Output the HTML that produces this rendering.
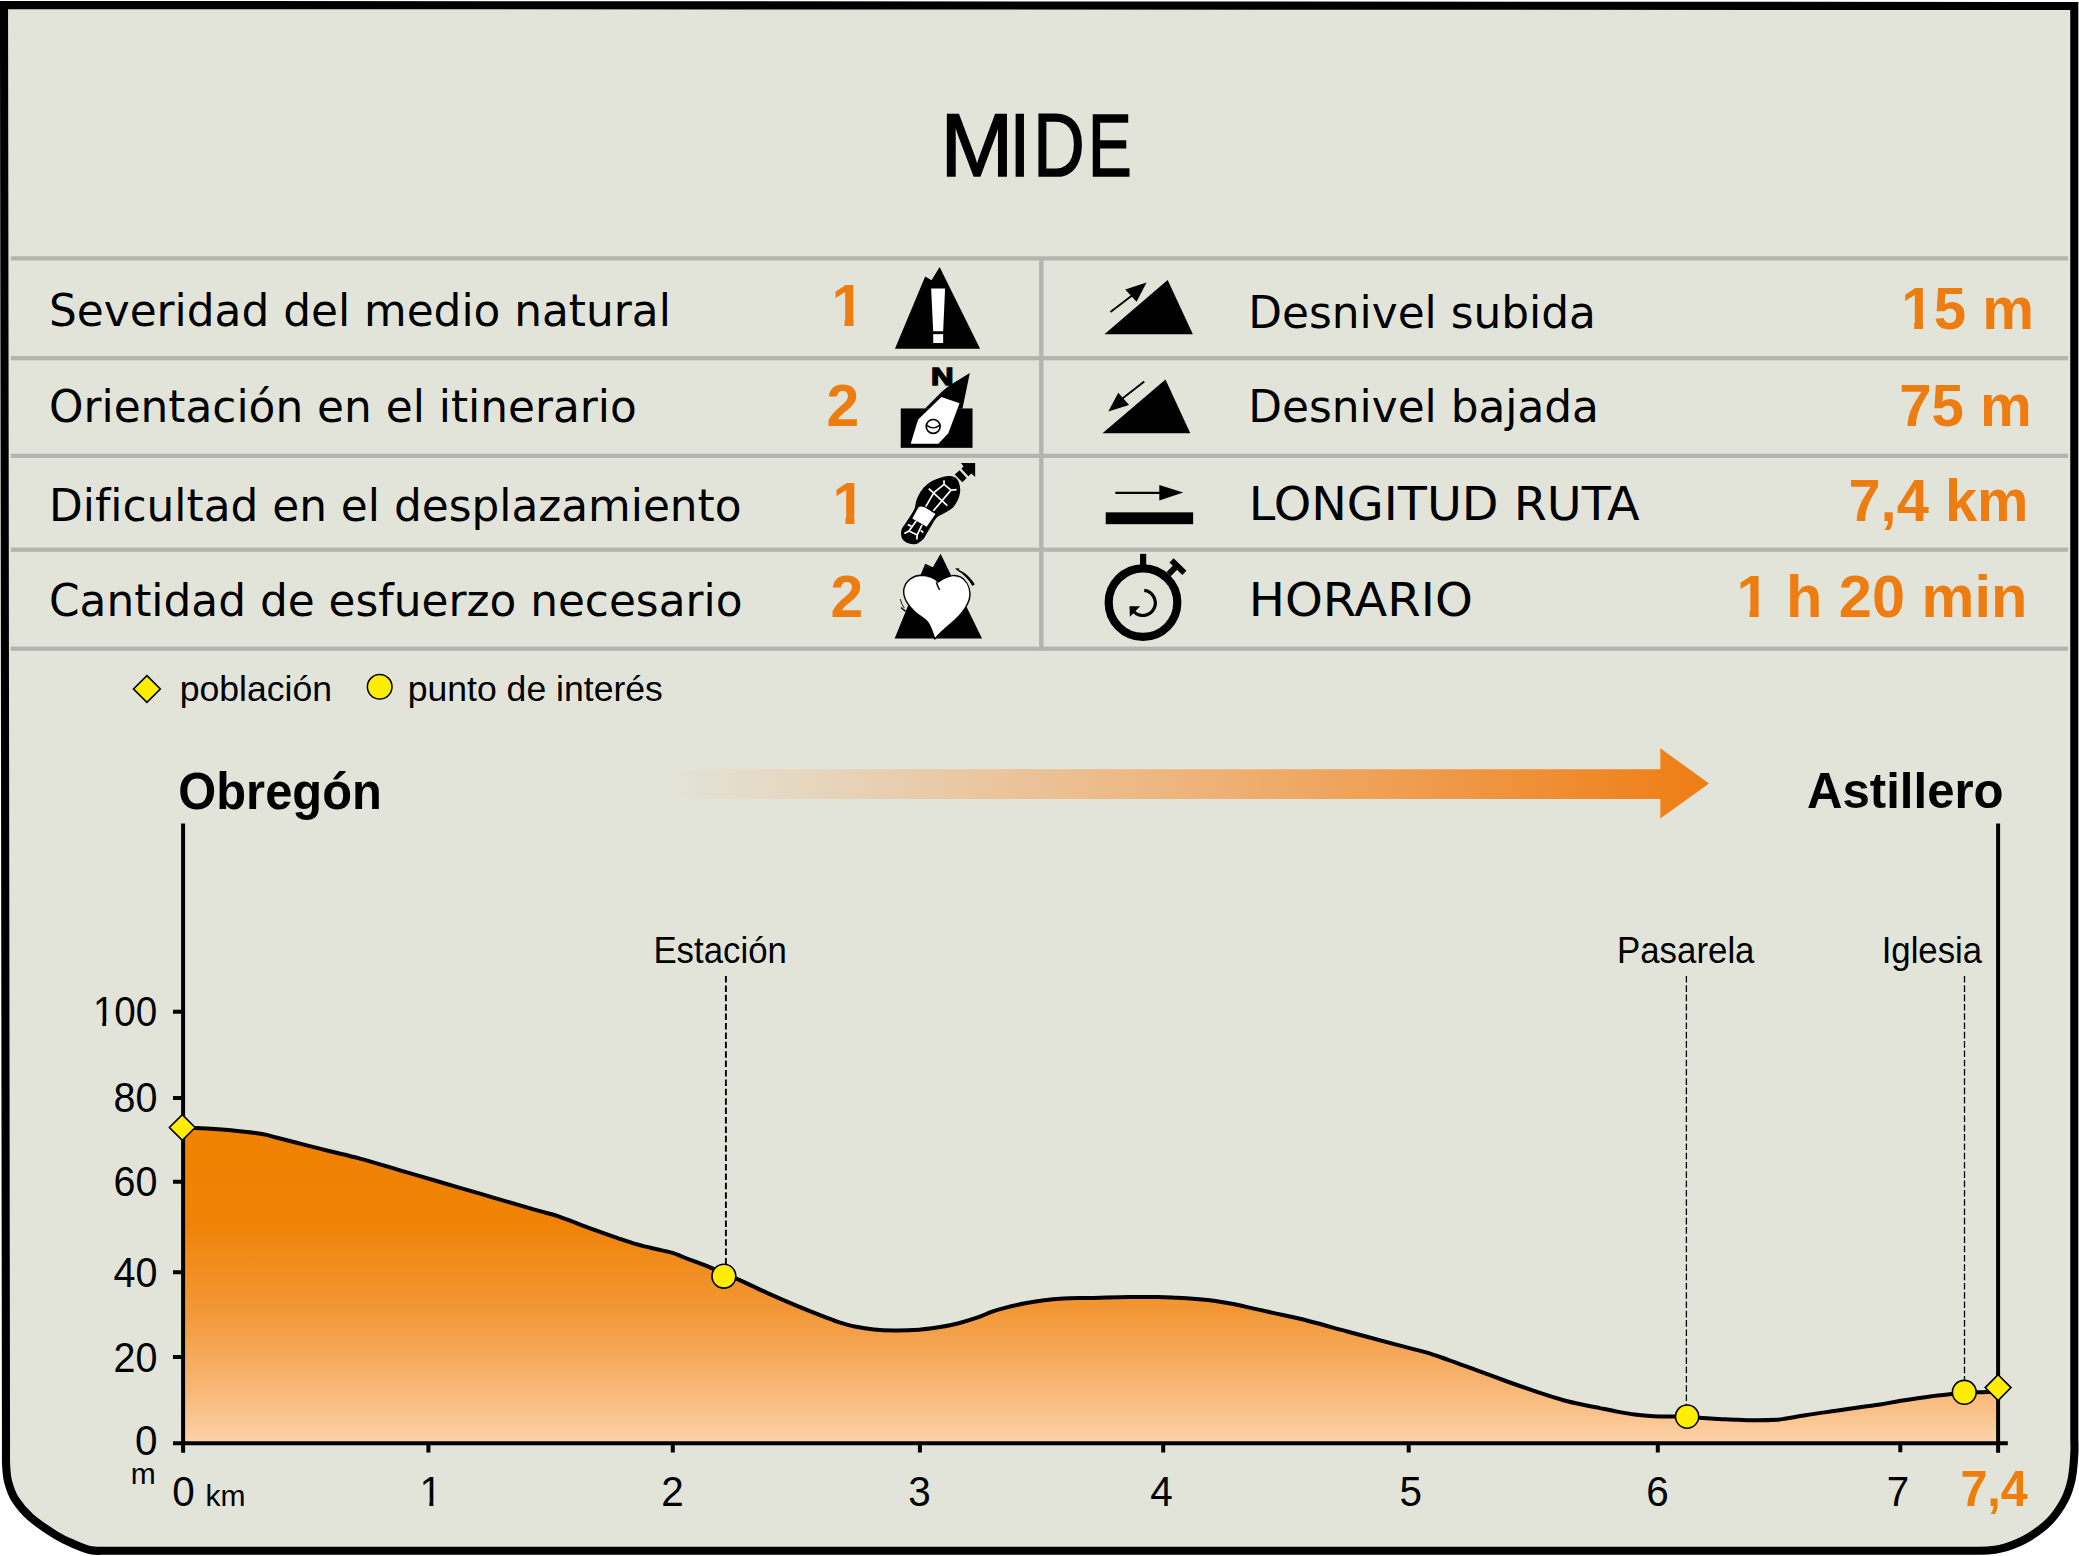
<!DOCTYPE html>
<html lang="es">
<head>
<meta charset="utf-8">
<title>MIDE</title>
<style>
html,body{margin:0;padding:0;background:#fff;}
body{width:2079px;height:1556px;overflow:hidden;}
svg{display:block;}
.lbl{font-family:"DejaVu Sans","Liberation Sans",sans-serif;font-size:43.8px;fill:#000;}
.lblc{font-family:"DejaVu Sans","Liberation Sans",sans-serif;font-size:46.2px;fill:#000;}
.val{font-family:"Liberation Sans",sans-serif;font-weight:bold;font-size:58px;fill:#ee7d11;}
.ax{font-family:"Liberation Sans",sans-serif;font-size:41px;fill:#000;}
.poi{font-family:"Liberation Sans",sans-serif;font-size:36px;fill:#000;}
.town{font-family:"Liberation Sans",sans-serif;font-weight:bold;font-size:49px;fill:#000;}
</style>
</head>
<body>
<svg width="2079" height="1556" viewBox="0 0 2079 1556">
<defs>
<linearGradient id="gfill" gradientUnits="userSpaceOnUse" x1="0" y1="1127" x2="0" y2="1443">
<stop offset="0" stop-color="#f08200"/>
<stop offset="0.30" stop-color="#f08306"/>
<stop offset="0.58" stop-color="#f29736"/>
<stop offset="0.77" stop-color="#f6af66"/>
<stop offset="0.90" stop-color="#f9c189"/>
<stop offset="1" stop-color="#fcd3aa"/>
</linearGradient>
<linearGradient id="garrow" gradientUnits="userSpaceOnUse" x1="655" y1="0" x2="1709" y2="0">
<stop offset="0.00" stop-color="#e2e4da"/>
<stop offset="0.25" stop-color="#e8ccaa"/>
<stop offset="0.50" stop-color="#eeb47c"/>
<stop offset="0.75" stop-color="#ef9948"/>
<stop offset="1.00" stop-color="#ef7d14"/>
</linearGradient>
<clipPath id="c1a"><rect x="828.6" y="266.2" width="35.4" height="53.1"/><rect x="844.6" y="266.2" width="8.9" height="62.0"/></clipPath>
<clipPath id="c1b"><rect x="829.5" y="464.0" width="35.4" height="53.1"/><rect x="845.5" y="464.0" width="8.9" height="62.0"/></clipPath>
<clipPath id="c15"><rect x="1898.3" y="269.1" width="35.1" height="53.1"/><rect x="1914.2" y="269.1" width="8.8" height="62.0"/><rect x="1933.0" y="269.1" width="107.5" height="84.0"/></clipPath>
<clipPath id="c1h"><rect x="1733.4" y="557.1" width="35.8" height="53.1"/><rect x="1749.6" y="557.1" width="9.0" height="62.0"/><rect x="1768.8" y="557.1" width="265.1" height="84.0"/></clipPath>
<clipPath id="c100"><rect x="89.9" y="983.1" width="23.8" height="38.9"/><rect x="102.3" y="983.1" width="3.8" height="45.0"/><rect x="113.3" y="983.1" width="50.6" height="60.2"/></clipPath>
<clipPath id="cx1"><rect x="416.6" y="1462.8" width="24.7" height="38.9"/><rect x="429.4" y="1462.8" width="4.0" height="45.0"/></clipPath>
</defs>

<!-- panel frame -->
<path id="frame" d="M4,5 L2074.3,6 L2074.3,1439.5 C2074.3,1442.0 2074.8,1447.8 2074.3,1454.5 C2073.9,1461.2 2073.2,1472.0 2071.6,1479.5 C2070.0,1487.0 2068.4,1492.6 2064.8,1499.5 C2061.2,1506.4 2055.9,1514.7 2049.8,1521.0 C2043.7,1527.3 2035.4,1533.2 2028.3,1537.5 C2021.2,1541.8 2013.7,1544.7 2007.3,1546.8 C2000.9,1548.9 1995.7,1549.6 1989.8,1550.3 C1983.9,1551.0 1974.8,1550.6 1971.8,1550.7 L105.0,1550.7 C102.7,1550.6 96.2,1551.4 91.0,1550.3 C85.8,1549.2 79.4,1546.4 73.5,1543.9 C67.6,1541.4 63.0,1539.6 55.8,1535.1 C48.6,1530.6 37.1,1523.0 30.3,1517.0 C23.5,1511.0 18.7,1504.8 15.0,1499.0 C11.3,1493.2 9.7,1487.4 8.2,1482.0 C6.7,1476.6 6.6,1471.6 6.2,1466.5 C5.8,1461.4 6.0,1454.0 6.0,1451.5 Z" fill="#e2e4da" stroke="#000" stroke-width="8.1" stroke-linejoin="miter"/>

<!-- title -->
<text id="title" y="175.9" font-family="'Liberation Sans',sans-serif" font-size="89.6" stroke="#000" stroke-width="1.7"><tspan x="940.5" textLength="72.8" lengthAdjust="spacingAndGlyphs">M</tspan><tspan x="1009.5" textLength="20.6" lengthAdjust="spacingAndGlyphs">I</tspan><tspan x="1033.2" textLength="51.4" lengthAdjust="spacingAndGlyphs">D</tspan><tspan x="1087.9" textLength="43.7" lengthAdjust="spacingAndGlyphs">E</tspan></text>

<!-- table rules -->
<g id="rules" fill="#b3b4ac">
<rect x="10.8" y="256.3" width="2057.2" height="4.2"/>
<rect x="10.8" y="356.1" width="2057.2" height="4.2"/>
<rect x="10.8" y="453.7" width="2057.2" height="4.2"/>
<rect x="10.8" y="547.6" width="2057.2" height="4.2"/>
<rect x="10.8" y="646.6" width="2057.2" height="4.2"/>
<rect x="1039.1" y="258.4" width="4.4" height="392.3"/>
</g>

<!-- left column -->
<g id="leftcol">
<text class="lbl" x="49" y="326.4">Severidad del medio natural</text>
<text class="lbl" x="49" y="422.2">Orientación en el itinerario</text>
<text class="lbl" x="49" y="521.3">Dificultad en el desplazamiento</text>
<text class="lbl" x="49" y="616.1">Cantidad de esfuerzo necesario</text>
<text class="val" x="831.6" y="326.2" style="font-size:60px" textLength="32.7" lengthAdjust="spacingAndGlyphs" clip-path="url(#c1a)">1</text>
<text class="val" x="826.6" y="426" style="font-size:60px" textLength="32.7" lengthAdjust="spacingAndGlyphs">2</text>
<text class="val" x="832.5" y="524" style="font-size:60px" textLength="32.7" lengthAdjust="spacingAndGlyphs" clip-path="url(#c1b)">1</text>
<text class="val" x="830.6" y="617.1" style="font-size:60px" textLength="32.7" lengthAdjust="spacingAndGlyphs">2</text>
</g>

<!-- right column -->
<g id="rightcol">
<text class="lbl" x="1248.3" y="328.2">Desnivel subida</text>
<text class="lbl" x="1248.3" y="422">Desnivel bajada</text>
<text class="lblc" x="1248.8" y="520" textLength="390.9" lengthAdjust="spacingAndGlyphs">LONGITUD RUTA</text>
<text class="lblc" x="1248.8" y="616" textLength="224" lengthAdjust="spacingAndGlyphs">HORARIO</text>
<text class="val" x="1901.3" y="329.1" style="font-size:60px" textLength="132.6" lengthAdjust="spacingAndGlyphs" clip-path="url(#c15)">15 m</text>
<text class="val" x="1899.2" y="425.8" style="font-size:60px" textLength="132.6" lengthAdjust="spacingAndGlyphs">75 m</text>
<text class="val" x="1848.4" y="521.3" style="font-size:60px" textLength="180.1" lengthAdjust="spacingAndGlyphs">7,4 km</text>
<text class="val" x="1736.4" y="617.1" style="font-size:60px" textLength="290.9" lengthAdjust="spacingAndGlyphs" clip-path="url(#c1h)">1 h 20 min</text>
</g>

<!-- ICONS -->
<g id="icons">
<!-- severidad: mountain with exclamation -->
<g transform="translate(885 258) scale(0.064259)">
<path d="M155,1413 L1480,1413 L850,140 L725,345 L625,287 Z" fill="#000"/>
<path d="M718,475 L935,475 L905,1138 L750,1138 Z" fill="#fff"/>
<rect x="750" y="1185" width="155" height="138" fill="#fff"/>
</g>
<!-- orientacion: compass -->
<g transform="translate(885 358) scale(0.064259)">
<rect x="245" y="785" width="1117" height="613" fill="#000"/>
<path d="M1320,232 L1060,392 Q960,450 880,530 L620,790 L1205,790 Z" fill="#000"/>
<path d="M878,605 L1160,705 L985,1170 L832,1335 L400,1335 L492,1030 L520,955 Z" fill="#fff"/>
<circle cx="750" cy="1065" r="108" fill="none" stroke="#000" stroke-width="26"/>
<path d="M648,1045 Q750,1130 852,1045" fill="none" stroke="#000" stroke-width="22"/>
</g>
<text x="942.4" y="384.5" text-anchor="middle" font-family="'Liberation Sans',sans-serif" font-weight="bold" font-size="24" textLength="22.6" lengthAdjust="spacingAndGlyphs" stroke="#000" stroke-width="1.4">N</text>
<!-- desplazamiento: boot sole -->
<g transform="translate(890 455) scale(0.06105)">
<path d="M1060,365 C1110,385 1145,470 1150,560 C1155,650 1110,770 1040,850 C990,905 880,960 800,1000 C760,1020 730,1070 700,1120 L600,1290 C570,1340 560,1375 520,1400 C480,1440 440,1460 400,1460 C340,1462 290,1450 260,1430 C220,1405 192,1370 185,1330 C178,1290 180,1255 190,1220 C205,1180 235,1150 260,1110 L350,970 C380,925 400,890 410,850 C420,805 425,760 440,720 C455,680 475,640 500,600 C530,555 570,510 620,470 C670,430 740,400 800,380 C850,362 900,350 950,345 C990,342 1030,350 1060,365 Z" fill="#000"/>
<path d="M1160,130 L1395,130 L1395,360 L1330,305 L1285,350 L1170,225 L1205,185 Z" fill="#000"/>
<path d="M1140,250 L1255,375 L1185,445 L1060,320 Z" fill="#000"/>
<g fill="none" stroke="#fff" stroke-width="28" stroke-linecap="butt">
<path d="M885,415 L885,480 L720,615 L585,845"/>
<path d="M885,480 L1000,575 L1092,568"/>
<path d="M1000,575 L710,915"/>
<path d="M635,550 L940,830"/>
<path d="M430,1080 L310,1245 L235,1285"/>
<path d="M310,1245 L445,1310 L440,1385"/>
<path d="M525,1145 L445,1310"/>
<path d="M290,1140 L350,1165"/>
<path d="M505,1235 L545,1270"/>
</g>
<path d="M470,850 Q490,835 560,850 L745,965 L600,1175 L365,1040 Z" fill="#fff"/>
</g>
<!-- esfuerzo: mountain with heart -->
<g transform="translate(885 548) scale(0.064259)">
<path d="M150,1410 L1510,1410 L865,90 L745,300 L625,245 Z" fill="#000"/>
<path d="M825,530 C790,470 680,425 560,425 C440,430 330,500 295,630 C270,760 340,880 470,1000 C540,1060 600,1090 650,1140 C710,1200 740,1320 775,1415 C850,1330 930,1260 1000,1200 C1100,1115 1190,1030 1250,930 C1300,850 1330,780 1322,700 C1315,600 1260,500 1180,455 C1140,435 1090,425 1050,430 C980,440 900,480 825,530 Z" fill="#fff" stroke="#000" stroke-width="22" stroke-linejoin="round"/>
<path d="M800,535 Q815,590 850,650" fill="none" stroke="#000" stroke-width="24"/>
<path d="M1090,316 L1165,320 L1145,338 C1250,385 1330,455 1398,565 L1360,590 C1300,490 1230,410 1125,352 Z" fill="#000"/>
<path d="M238,795 Q255,880 300,935" fill="none" stroke="#000" stroke-width="14"/>
<path d="M250,925 Q285,960 322,985" fill="none" stroke="#000" stroke-width="22"/>
</g>
<!-- desnivel subida -->
<g transform="translate(1080 260) scale(0.12855)">
<path d="M190,577 L878,577 L682,155 Z" fill="#000"/>
<path d="M237,405 L420,265" stroke="#000" stroke-width="15" fill="none"/>
<path d="M518,175 L352,230 L440,325 Z" fill="#000"/>
<!-- desnivel bajada -->
<path d="M175,1348 L858,1348 L665,930 Z" fill="#000"/>
<path d="M500,945 L320,1085" stroke="#000" stroke-width="15" fill="none"/>
<path d="M220,1178 L298,1032 L382,1128 Z" fill="#000"/>
</g>
<!-- longitud + horario -->
<g transform="translate(1080 450) scale(0.12855)">
<path d="M275,333 L625,333" stroke="#000" stroke-width="17" fill="none"/>
<path d="M617,272 L803,330 L617,393 Z" fill="#000"/>
<rect x="200" y="485" width="680" height="92" fill="#000"/>
<circle cx="490" cy="1187" r="267" fill="none" stroke="#000" stroke-width="64"/>
<rect x="467" y="808" width="48" height="100" fill="#000"/>
<path d="M690,965 L757,898" stroke="#000" stroke-width="46" fill="none"/>
<path d="M712,858 L812,955" stroke="#000" stroke-width="46" fill="none"/>
<path d="M500,1092 A98,98 0 1 1 418,1258" fill="none" stroke="#000" stroke-width="25"/>
<path d="M385,1215 L468,1215 L388,1298 Z" fill="#000"/>
</g>
</g>

<!-- legend -->
<g id="legend">
<path d="M146.9,675.6 L160.3,689 L146.9,702.4 L133.5,689 Z" fill="#ffed00" stroke="#000" stroke-width="1.6"/>
<circle cx="379.7" cy="686.8" r="12.3" fill="#ffed00" stroke="#000" stroke-width="1.5"/>
<text class="poi" x="179.7" y="700.6" style="font-size:35.6px">población</text>
<text class="poi" x="407.7" y="700.6" style="font-size:35.6px">punto de interés</text>
</g>

<!-- chart -->
<g id="chart">
<!-- direction arrow -->
<path d="M655,769.2 H1660.3 V748.2 L1709,783.4 L1660.3,818.6 V799.1 H655 Z" fill="url(#garrow)"/>
<!-- profile -->
<path id="pfill" d="M183.3,1127.8 C185.3,1127.8 189.5,1127.8 195.4,1128.1 C201.3,1128.3 211.4,1128.8 218.5,1129.3 C225.6,1129.8 231.3,1130.3 237.7,1131.0 C244.1,1131.7 252.2,1132.5 257.0,1133.2 C261.8,1133.9 263.4,1134.2 266.6,1134.9 C269.8,1135.6 270.6,1136.0 276.2,1137.5 C281.8,1139.0 291.0,1141.3 300.0,1143.6 C309.0,1145.9 320.0,1148.7 330.0,1151.2 C340.0,1153.7 348.3,1155.4 360.0,1158.6 C371.7,1161.8 386.7,1166.4 400.0,1170.3 C413.3,1174.2 426.7,1178.1 440.0,1182.0 C453.3,1185.9 466.7,1189.8 480.0,1193.7 C493.3,1197.6 510.0,1202.5 520.0,1205.4 C530.0,1208.3 533.5,1209.3 540.0,1211.2 C546.5,1213.1 551.2,1213.8 559.2,1216.6 C567.2,1219.3 578.5,1224.2 588.1,1227.7 C597.7,1231.2 609.0,1235.1 617.0,1237.8 C625.0,1240.5 629.8,1242.2 636.2,1244.1 C642.6,1245.9 649.5,1247.5 655.4,1248.9 C661.3,1250.3 667.0,1251.3 671.8,1252.7 C676.6,1254.1 679.0,1255.5 684.3,1257.5 C689.6,1259.5 696.9,1262.1 703.5,1264.7 C710.1,1267.3 717.9,1270.8 723.9,1273.3 C729.9,1275.8 731.8,1276.5 739.2,1279.8 C746.6,1283.1 758.5,1289.0 768.1,1293.3 C777.7,1297.6 787.4,1301.8 797.0,1305.8 C806.6,1309.8 818.6,1314.5 825.8,1317.3 C833.0,1320.1 835.5,1321.1 840.3,1322.6 C845.1,1324.1 849.1,1325.4 854.7,1326.5 C860.3,1327.6 867.5,1328.8 873.9,1329.4 C880.3,1330.1 885.7,1330.4 893.2,1330.4 C900.8,1330.5 911.7,1330.2 919.2,1329.7 C926.8,1329.2 932.1,1328.3 938.5,1327.3 C944.9,1326.3 951.3,1325.1 957.7,1323.5 C964.1,1321.9 971.4,1319.6 977.0,1317.7 C982.6,1315.8 986.6,1313.6 991.4,1311.9 C996.2,1310.2 1000.2,1309.0 1005.8,1307.6 C1011.4,1306.2 1018.7,1304.5 1025.1,1303.3 C1031.5,1302.1 1037.9,1301.0 1044.3,1300.2 C1050.7,1299.4 1057.1,1298.9 1063.5,1298.5 C1069.9,1298.1 1076.7,1298.1 1082.8,1298.0 C1088.9,1297.9 1092.3,1297.9 1100.0,1297.7 C1107.7,1297.5 1119.3,1297.1 1128.9,1297.0 C1138.5,1296.9 1149.7,1296.9 1157.7,1297.0 C1165.7,1297.1 1170.6,1297.5 1177.0,1297.8 C1183.4,1298.1 1189.8,1298.5 1196.2,1299.0 C1202.6,1299.5 1209.0,1300.0 1215.4,1300.9 C1221.8,1301.8 1228.3,1303.0 1234.7,1304.3 C1241.1,1305.6 1247.5,1307.2 1253.9,1308.6 C1260.3,1310.0 1265.5,1311.2 1273.2,1312.9 C1280.9,1314.6 1287.5,1315.7 1300.0,1318.8 C1312.5,1321.9 1332.1,1327.4 1348.1,1331.7 C1364.1,1336.0 1383.4,1341.2 1396.2,1344.6 C1409.0,1348.0 1416.4,1349.7 1425.1,1352.2 C1433.8,1354.7 1439.4,1356.8 1448.1,1359.8 C1456.8,1362.8 1467.4,1366.9 1477.0,1370.4 C1486.6,1373.9 1496.2,1377.5 1505.8,1381.0 C1515.4,1384.5 1525.1,1387.9 1534.7,1391.1 C1544.3,1394.3 1554.8,1397.8 1563.5,1400.2 C1572.2,1402.6 1580.5,1404.2 1586.6,1405.5 C1592.7,1406.8 1595.2,1407.1 1600.0,1408.1 C1604.8,1409.1 1609.6,1410.2 1615.4,1411.3 C1621.2,1412.4 1628.3,1413.8 1634.7,1414.6 C1641.1,1415.4 1647.5,1415.9 1653.9,1416.2 C1660.3,1416.5 1667.7,1416.5 1673.2,1416.6 C1678.7,1416.7 1682.7,1416.7 1687.1,1416.9 C1691.5,1417.1 1694.3,1417.4 1699.6,1417.7 C1704.9,1418.0 1712.5,1418.6 1718.9,1418.9 C1725.3,1419.2 1731.7,1419.6 1738.1,1419.8 C1744.5,1420.0 1750.9,1420.3 1757.3,1420.3 C1763.7,1420.3 1771.8,1420.1 1776.6,1419.8 C1781.4,1419.5 1781.4,1419.2 1786.2,1418.5 C1791.0,1417.8 1797.4,1416.5 1805.4,1415.3 C1813.4,1414.0 1824.7,1412.4 1834.3,1411.0 C1843.9,1409.6 1855.6,1407.9 1863.2,1406.8 C1870.8,1405.7 1873.7,1405.5 1880.0,1404.5 C1886.3,1403.5 1892.2,1402.2 1900.8,1400.8 C1909.4,1399.4 1923.1,1397.3 1931.6,1396.2 C1940.1,1395.1 1943.9,1394.6 1951.6,1393.9 C1959.3,1393.2 1971.7,1392.6 1977.7,1392.3 C1983.7,1392.0 1984.3,1392.0 1987.7,1391.9 C1991.1,1391.8 1996.3,1391.6 1998.0,1391.6 L1998,1443 L183.3,1443 Z" fill="url(#gfill)"/>
<path id="pline" d="M183.3,1127.8 C185.3,1127.8 189.5,1127.8 195.4,1128.1 C201.3,1128.3 211.4,1128.8 218.5,1129.3 C225.6,1129.8 231.3,1130.3 237.7,1131.0 C244.1,1131.7 252.2,1132.5 257.0,1133.2 C261.8,1133.9 263.4,1134.2 266.6,1134.9 C269.8,1135.6 270.6,1136.0 276.2,1137.5 C281.8,1139.0 291.0,1141.3 300.0,1143.6 C309.0,1145.9 320.0,1148.7 330.0,1151.2 C340.0,1153.7 348.3,1155.4 360.0,1158.6 C371.7,1161.8 386.7,1166.4 400.0,1170.3 C413.3,1174.2 426.7,1178.1 440.0,1182.0 C453.3,1185.9 466.7,1189.8 480.0,1193.7 C493.3,1197.6 510.0,1202.5 520.0,1205.4 C530.0,1208.3 533.5,1209.3 540.0,1211.2 C546.5,1213.1 551.2,1213.8 559.2,1216.6 C567.2,1219.3 578.5,1224.2 588.1,1227.7 C597.7,1231.2 609.0,1235.1 617.0,1237.8 C625.0,1240.5 629.8,1242.2 636.2,1244.1 C642.6,1245.9 649.5,1247.5 655.4,1248.9 C661.3,1250.3 667.0,1251.3 671.8,1252.7 C676.6,1254.1 679.0,1255.5 684.3,1257.5 C689.6,1259.5 696.9,1262.1 703.5,1264.7 C710.1,1267.3 717.9,1270.8 723.9,1273.3 C729.9,1275.8 731.8,1276.5 739.2,1279.8 C746.6,1283.1 758.5,1289.0 768.1,1293.3 C777.7,1297.6 787.4,1301.8 797.0,1305.8 C806.6,1309.8 818.6,1314.5 825.8,1317.3 C833.0,1320.1 835.5,1321.1 840.3,1322.6 C845.1,1324.1 849.1,1325.4 854.7,1326.5 C860.3,1327.6 867.5,1328.8 873.9,1329.4 C880.3,1330.1 885.7,1330.4 893.2,1330.4 C900.8,1330.5 911.7,1330.2 919.2,1329.7 C926.8,1329.2 932.1,1328.3 938.5,1327.3 C944.9,1326.3 951.3,1325.1 957.7,1323.5 C964.1,1321.9 971.4,1319.6 977.0,1317.7 C982.6,1315.8 986.6,1313.6 991.4,1311.9 C996.2,1310.2 1000.2,1309.0 1005.8,1307.6 C1011.4,1306.2 1018.7,1304.5 1025.1,1303.3 C1031.5,1302.1 1037.9,1301.0 1044.3,1300.2 C1050.7,1299.4 1057.1,1298.9 1063.5,1298.5 C1069.9,1298.1 1076.7,1298.1 1082.8,1298.0 C1088.9,1297.9 1092.3,1297.9 1100.0,1297.7 C1107.7,1297.5 1119.3,1297.1 1128.9,1297.0 C1138.5,1296.9 1149.7,1296.9 1157.7,1297.0 C1165.7,1297.1 1170.6,1297.5 1177.0,1297.8 C1183.4,1298.1 1189.8,1298.5 1196.2,1299.0 C1202.6,1299.5 1209.0,1300.0 1215.4,1300.9 C1221.8,1301.8 1228.3,1303.0 1234.7,1304.3 C1241.1,1305.6 1247.5,1307.2 1253.9,1308.6 C1260.3,1310.0 1265.5,1311.2 1273.2,1312.9 C1280.9,1314.6 1287.5,1315.7 1300.0,1318.8 C1312.5,1321.9 1332.1,1327.4 1348.1,1331.7 C1364.1,1336.0 1383.4,1341.2 1396.2,1344.6 C1409.0,1348.0 1416.4,1349.7 1425.1,1352.2 C1433.8,1354.7 1439.4,1356.8 1448.1,1359.8 C1456.8,1362.8 1467.4,1366.9 1477.0,1370.4 C1486.6,1373.9 1496.2,1377.5 1505.8,1381.0 C1515.4,1384.5 1525.1,1387.9 1534.7,1391.1 C1544.3,1394.3 1554.8,1397.8 1563.5,1400.2 C1572.2,1402.6 1580.5,1404.2 1586.6,1405.5 C1592.7,1406.8 1595.2,1407.1 1600.0,1408.1 C1604.8,1409.1 1609.6,1410.2 1615.4,1411.3 C1621.2,1412.4 1628.3,1413.8 1634.7,1414.6 C1641.1,1415.4 1647.5,1415.9 1653.9,1416.2 C1660.3,1416.5 1667.7,1416.5 1673.2,1416.6 C1678.7,1416.7 1682.7,1416.7 1687.1,1416.9 C1691.5,1417.1 1694.3,1417.4 1699.6,1417.7 C1704.9,1418.0 1712.5,1418.6 1718.9,1418.9 C1725.3,1419.2 1731.7,1419.6 1738.1,1419.8 C1744.5,1420.0 1750.9,1420.3 1757.3,1420.3 C1763.7,1420.3 1771.8,1420.1 1776.6,1419.8 C1781.4,1419.5 1781.4,1419.2 1786.2,1418.5 C1791.0,1417.8 1797.4,1416.5 1805.4,1415.3 C1813.4,1414.0 1824.7,1412.4 1834.3,1411.0 C1843.9,1409.6 1855.6,1407.9 1863.2,1406.8 C1870.8,1405.7 1873.7,1405.5 1880.0,1404.5 C1886.3,1403.5 1892.2,1402.2 1900.8,1400.8 C1909.4,1399.4 1923.1,1397.3 1931.6,1396.2 C1940.1,1395.1 1943.9,1394.6 1951.6,1393.9 C1959.3,1393.2 1971.7,1392.6 1977.7,1392.3 C1983.7,1392.0 1984.3,1392.0 1987.7,1391.9 C1991.1,1391.8 1996.3,1391.6 1998.0,1391.6" fill="none" stroke="#000" stroke-width="4" stroke-linejoin="round"/>
<!-- axes -->
<g stroke="#000" stroke-width="4" fill="none">
<path d="M183.1,823.5 V1452.7"/>
<path d="M1998.1,823.5 V1452.7"/>
<path d="M173,1443.25 H2007.8"/>
<path d="M173,1011.7 H183 M173,1098.1 H183 M173,1181.8 H183 M173,1272.3 H183 M173,1357 H183"/>
<path d="M428.4,1443 V1452.4 M672.8,1443 V1452.4 M919.9,1443 V1452.4 M1163.2,1443 V1452.4 M1408.7,1443 V1452.4 M1657.8,1443 V1452.4 M1900.3,1443 V1452.2" stroke-width="4"/>
</g>
<!-- dashed guides -->
<g stroke="#000" fill="none">
<path d="M725.9,976 V1264" stroke-width="1.9" stroke-dasharray="6.5 2.9"/>
<path d="M1686.4,976 V1405" stroke-width="1.3" stroke-dasharray="6.6 2.7"/>
<path d="M1964.5,976 V1381" stroke-width="1.3" stroke-dasharray="6.6 2.7"/>
</g>
<!-- markers -->
<g fill="#ffed00" stroke="#000" stroke-width="1.6">
<circle cx="723.9" cy="1276.2" r="11.9"/>
<circle cx="1687.1" cy="1416.6" r="11.6"/>
<circle cx="1964.3" cy="1392.3" r="11.9"/>
<path d="M182.3,1114.6 L195.2,1127.5 L182.3,1140.4 L169.4,1127.5 Z"/>
<path d="M1998.1,1374.7 L2011,1387.6 L1998.1,1400.5 L1985.2,1387.6 Z"/>
</g>
<!-- y labels -->
<g class="ax" style="font-size:43px" lengthAdjust="spacingAndGlyphs">
<text x="92.9" y="1026.1" textLength="64.4" lengthAdjust="spacingAndGlyphs" clip-path="url(#c100)">100</text>
<text x="113.5" y="1112.2" textLength="43.9" lengthAdjust="spacingAndGlyphs">80</text>
<text x="113.5" y="1196" textLength="43.9" lengthAdjust="spacingAndGlyphs">60</text>
<text x="113.5" y="1287" textLength="43.9" lengthAdjust="spacingAndGlyphs">40</text>
<text x="113.5" y="1372" textLength="43.9" lengthAdjust="spacingAndGlyphs">20</text>
<text x="134.9" y="1455.1" textLength="22.5" lengthAdjust="spacingAndGlyphs">0</text>
</g>
<text x="155.8" y="1483.9" text-anchor="end" font-family="'Liberation Sans',sans-serif" font-size="30">m</text>
<!-- x labels -->
<g class="ax" style="font-size:43px">
<text x="172.2" y="1505.8" textLength="22.5" lengthAdjust="spacingAndGlyphs">0</text>
<text x="419.6" y="1505.8" textLength="22.5" lengthAdjust="spacingAndGlyphs" clip-path="url(#cx1)">1</text>
<text x="661.2" y="1505.8" textLength="22.5" lengthAdjust="spacingAndGlyphs">2</text>
<text x="908.2" y="1505.8" textLength="22.5" lengthAdjust="spacingAndGlyphs">3</text>
<text x="1150.2" y="1505.8" textLength="22.5" lengthAdjust="spacingAndGlyphs">4</text>
<text x="1399.5" y="1505.8" textLength="22.5" lengthAdjust="spacingAndGlyphs">5</text>
<text x="1646.2" y="1505.8" textLength="22.5" lengthAdjust="spacingAndGlyphs">6</text>
<text x="1886.8" y="1505.8" textLength="22.5" lengthAdjust="spacingAndGlyphs">7</text>
</g>
<text x="205.5" y="1506" font-family="'Liberation Sans',sans-serif" font-size="30">km</text>
<text x="1960.4" y="1505.6" font-family="'Liberation Sans',sans-serif" font-weight="bold" font-size="50.5" fill="#ef7d08" textLength="67.4" lengthAdjust="spacingAndGlyphs">7,4</text>
<!-- place labels -->
<text class="town" x="178.3" y="809.3" style="font-size:51.5px" textLength="203.5" lengthAdjust="spacingAndGlyphs">Obregón</text>
<text class="town" x="2003.6" y="807.9" text-anchor="end" style="font-size:50.8px" textLength="196.5" lengthAdjust="spacingAndGlyphs">Astillero</text>
<text class="poi" x="653.4" y="962.5" textLength="133.5" lengthAdjust="spacingAndGlyphs">Estación</text>
<text class="poi" x="1617" y="962.5" textLength="137.5" lengthAdjust="spacingAndGlyphs">Pasarela</text>
<text class="poi" x="1881.7" y="962.5" textLength="100.4" lengthAdjust="spacingAndGlyphs">Iglesia</text>
</g>
</svg>
</body>
</html>
